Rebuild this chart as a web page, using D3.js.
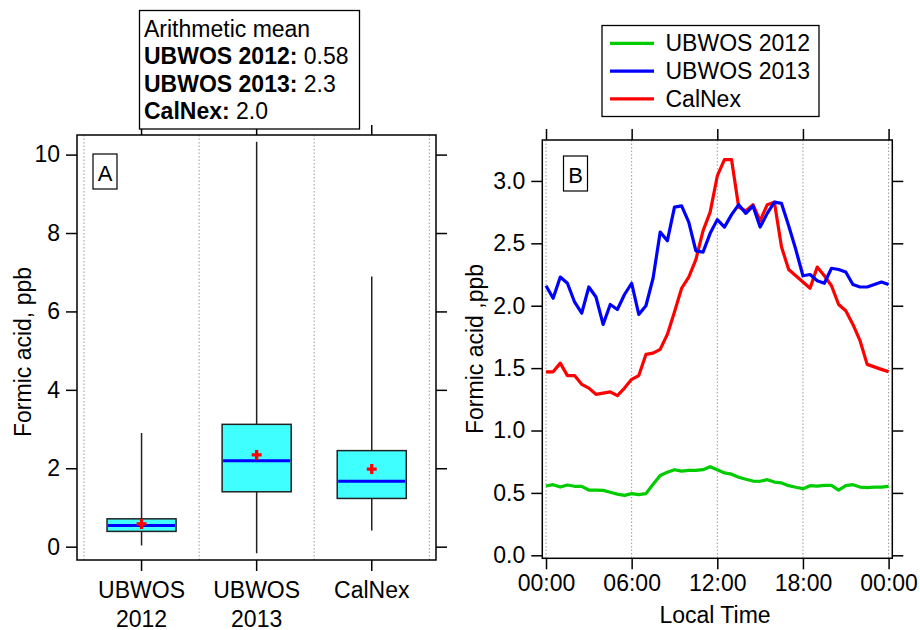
<!DOCTYPE html>
<html lang="en">
<head>
  <meta charset="UTF-8">
  <title>Formic acid - box plot and diurnal cycle</title>
  <script src="https://d3js.org/d3.v7.min.js"></script>
  <style>
    body { margin: 0; background: white; }
    svg { font-family: "Liberation Sans", Arial, Helvetica, sans-serif; }
    .tick text { font-size: 23px; fill: black; }
    .tick line { stroke: black; stroke-width: 1.5px; }
    .grid { stroke: #999; stroke-width: 1; stroke-dasharray: 1.5 2; }
    .frame { fill: none; stroke: black; stroke-width: 1.5px; }
  </style>
</head>
<body>
<div id="chart"></div>
<script>
  // ---- panel A: box statistics ----
  const sites = ["UBWOS 2012", "UBWOS 2013", "CalNex"];
  const siteLines = [["UBWOS", "2012"], ["UBWOS", "2013"], ["CalNex"]];
  const whiskerLow = [0.03, -0.17, 0.41];
  const q1 = [0.39, 1.40, 1.23];
  const median = [0.54, 2.19, 1.67];
  const q3 = [0.71, 3.12, 2.45];
  const whiskerHigh = [2.9, 10.33, 6.89];
  const means = [0.58, 2.34, 1.98];
  const meanLabels = ["0.58", "2.3", "2.0"];
  const yTicksA = [0, 2, 4, 6, 8, 10];

  // ---- panel B: diurnal cycle, half-hourly ----
  const hours = d3.range(0, 24.01, 0.5);
  const ubwos2012 = [0.555, 0.566, 0.547, 0.563, 0.553, 0.553, 0.523, 0.523, 0.52, 0.505, 0.49, 0.48,
    0.494, 0.486, 0.494, 0.57, 0.64, 0.665, 0.686, 0.675, 0.68, 0.68, 0.686, 0.71, 0.685,
    0.66, 0.65, 0.625, 0.61, 0.595, 0.593, 0.606, 0.587, 0.58, 0.558, 0.545, 0.534,
    0.558, 0.555, 0.56, 0.56, 0.523, 0.558, 0.566, 0.547, 0.542, 0.547, 0.547, 0.553];
  const ubwos2013 = [2.16, 2.06, 2.23, 2.18, 2.03, 1.94, 2.15, 2.07, 1.85, 2.01, 1.97, 2.09,
    2.18, 1.93, 2.00, 2.22, 2.59, 2.52, 2.79, 2.80, 2.67, 2.44, 2.43, 2.58, 2.69,
    2.63, 2.73, 2.81, 2.74, 2.80, 2.63, 2.74, 2.83, 2.82, 2.64, 2.45, 2.24,
    2.25, 2.20, 2.18, 2.30, 2.29, 2.27, 2.17, 2.15, 2.15, 2.17, 2.19, 2.17];
  const calnex = [1.47, 1.47, 1.54, 1.44, 1.44, 1.37, 1.34, 1.29, 1.30, 1.31, 1.28, 1.34,
    1.41, 1.44, 1.61, 1.62, 1.65, 1.77, 1.95, 2.14, 2.23, 2.37, 2.60, 2.75, 3.04,
    3.17, 3.17, 2.79, 2.76, 2.81, 2.68, 2.81, 2.83, 2.47, 2.29, 2.24, 2.19,
    2.14, 2.31, 2.24, 2.16, 2.01, 1.96, 1.85, 1.72, 1.53, 1.51, 1.49, 1.47];
  const seriesNames = ["UBWOS 2012", "UBWOS 2013", "CalNex"];
  const seriesColors = ["#00cc00", "#0000ff", "#ff0000"];
  const xTicksB = [0, 6, 12, 18, 24];
  const yTicksB = [0, 0.5, 1.0, 1.5, 2.0, 2.5, 3.0];

  const svg = d3.select("#chart").append("svg")
    .attr("width", 920)
    .attr("height", 630);

  // ===================== Panel A =====================
  const A = { left: 77, right: 436, top: 135, bottom: 560 };
  const xA = d3.scaleBand().domain(sites).range([84, 429.3]);
  const yA = d3.scaleLinear().domain([-0.34, 10.5]).range([A.bottom, A.top]);
  const gA = svg.append("g");

  // dotted separators at band edges
  const edges = sites.map(s => xA(s)).concat([xA.range()[1]]);
  gA.selectAll(".gridA").data(edges).enter().append("line")
    .attr("class", "grid")
    .attr("x1", d => d).attr("x2", d => d)
    .attr("y1", A.top).attr("y2", A.bottom);

  gA.append("g")
    .attr("transform", `translate(${A.left},0)`)
    .call(d3.axisLeft(yA).tickValues(yTicksA).tickSize(11).tickPadding(6))
    .call(g => g.select(".domain").remove());
  gA.append("g")
    .attr("transform", `translate(${A.right},0)`)
    .call(d3.axisRight(yA).tickValues(yTicksA).tickSize(11).tickFormat(""))
    .call(g => g.select(".domain").remove());
  gA.append("g")
    .attr("transform", `translate(0,${A.bottom})`)
    .call(d3.axisBottom(xA).tickSize(11).tickFormat(""))
    .call(g => g.select(".domain").remove());
  gA.append("g")
    .attr("transform", `translate(0,${A.top})`)
    .call(d3.axisTop(xA).tickSize(10).tickFormat(""))
    .call(g => g.select(".domain").remove());

  gA.append("rect").attr("class", "frame")
    .attr("x", A.left).attr("y", A.top)
    .attr("width", A.right - A.left).attr("height", A.bottom - A.top);

  // category labels
  sites.forEach((s, i) => {
    const t = gA.append("text")
      .attr("x", xA(s) + xA.bandwidth() / 2)
      .attr("y", 598)
      .attr("text-anchor", "middle")
      .style("font-size", "23px");
    siteLines[i].forEach((line, j) => {
      t.append("tspan")
        .attr("x", xA(s) + xA.bandwidth() / 2)
        .attr("dy", j === 0 ? 0 : 28.5)
        .text(line);
    });
  });

  // boxes
  const boxW = xA.bandwidth() * 0.6;
  sites.forEach((s, i) => {
    const cx = xA(s) + xA.bandwidth() / 2;
    gA.append("line")
      .attr("x1", cx).attr("x2", cx)
      .attr("y1", yA(whiskerLow[i])).attr("y2", yA(whiskerHigh[i]))
      .attr("stroke", "#222").attr("stroke-width", 1.5);
    gA.append("rect")
      .attr("x", cx - boxW / 2).attr("width", boxW)
      .attr("y", yA(q3[i])).attr("height", yA(q1[i]) - yA(q3[i]))
      .attr("fill", "#40ffff").attr("stroke", "#222").attr("stroke-width", 1.5);
    gA.append("line")
      .attr("x1", cx - boxW / 2 + 1).attr("x2", cx + boxW / 2 - 1)
      .attr("y1", yA(median[i])).attr("y2", yA(median[i]))
      .attr("stroke", "#0000ff").attr("stroke-width", 3);
    gA.append("path")
      .attr("d", d3.symbol(d3.symbolCross, 55)())
      .attr("transform", `translate(${cx},${yA(means[i])})`)
      .attr("fill", "#ff0000");
  });

  // panel letter
  gA.append("rect")
    .attr("x", 93).attr("y", 154).attr("width", 24).attr("height", 35)
    .attr("fill", "white").attr("stroke", "black").attr("stroke-width", 1.2);
  gA.append("text").attr("x", 105).attr("y", 181)
    .attr("text-anchor", "middle").style("font-size", "22px").text("A");

  // y label
  gA.append("text")
    .attr("transform", "translate(31,352) rotate(-90)")
    .attr("text-anchor", "middle")
    .style("font-size", "23px")
    .text("Formic acid, ppb");

  // mean annotation box
  gA.append("rect")
    .attr("x", 139.5).attr("y", 10.5).attr("width", 220).attr("height", 118.5)
    .attr("fill", "white").attr("stroke", "black").attr("stroke-width", 1.3);
  gA.append("text").attr("x", 144).attr("y", 36.5)
    .style("font-size", "23px").text("Arithmetic mean");
  sites.forEach((s, i) => {
    const t = gA.append("text").attr("x", 144).attr("y", 64 + i * 27.6)
      .style("font-size", "23px");
    t.append("tspan").style("font-weight", "bold").text(s + ":");
    t.append("tspan").text(" " + meanLabels[i]);
  });

  // ===================== Panel B =====================
  const B = { left: 542.3, right: 892.3, top: 140, bottom: 558.3 };
  const xB = d3.scaleLinear().domain([-0.26, 24.26]).range([B.left, B.right]);
  const yB = d3.scaleLinear().domain([-0.024, 3.328]).range([B.bottom, B.top]);
  const gB = svg.append("g");

  gB.selectAll(".gridB").data(xTicksB).enter().append("line")
    .attr("class", "grid")
    .attr("x1", d => xB(d)).attr("x2", d => xB(d))
    .attr("y1", B.top).attr("y2", B.bottom);

  const hhmm = d => (d % 24 < 10 ? "0" : "") + (d % 24) + ":00";

  gB.append("g")
    .attr("transform", `translate(${B.left},0)`)
    .call(d3.axisLeft(yB).tickValues(yTicksB).tickSize(11).tickPadding(6).tickFormat(d3.format(".1f")))
    .call(g => g.select(".domain").remove());
  gB.append("g")
    .attr("transform", `translate(${B.right},0)`)
    .call(d3.axisRight(yB).tickValues(yTicksB).tickSize(11).tickFormat(""))
    .call(g => g.select(".domain").remove());
  gB.append("g")
    .attr("transform", `translate(0,${B.bottom})`)
    .call(d3.axisBottom(xB).tickValues(xTicksB).tickSize(11).tickPadding(5).tickFormat(hhmm))
    .call(g => g.select(".domain").remove());
  gB.append("g")
    .attr("transform", `translate(0,${B.top})`)
    .call(d3.axisTop(xB).tickValues(xTicksB).tickSize(11).tickFormat(""))
    .call(g => g.select(".domain").remove());

  gB.append("rect").attr("class", "frame")
    .attr("x", B.left).attr("y", B.top)
    .attr("width", B.right - B.left).attr("height", B.bottom - B.top);

  const line = d3.line().x((d, i) => xB(hours[i])).y(d => yB(d));
  [ubwos2012, calnex, ubwos2013].forEach((vals) => {
    const k = vals === ubwos2012 ? 0 : vals === ubwos2013 ? 1 : 2;
    gB.append("path")
      .datum(vals)
      .attr("d", line)
      .attr("fill", "none")
      .attr("stroke", seriesColors[k])
      .attr("stroke-width", 3.2)
      .attr("stroke-linejoin", "round");
  });

  gB.append("rect")
    .attr("x", 563.5).attr("y", 156).attr("width", 24).attr("height", 35)
    .attr("fill", "white").attr("stroke", "black").attr("stroke-width", 1.2);
  gB.append("text").attr("x", 575.5).attr("y", 183)
    .attr("text-anchor", "middle").style("font-size", "22px").text("B");

  gB.append("text")
    .attr("transform", "translate(482.5,349) rotate(-90)")
    .attr("text-anchor", "middle")
    .style("font-size", "23px")
    .text("Formic acid ,ppb");
  gB.append("text")
    .attr("x", 715).attr("y", 623)
    .attr("text-anchor", "middle")
    .style("font-size", "23px")
    .text("Local Time");

  // legend
  gB.append("rect")
    .attr("x", 602).attr("y", 25.5).attr("width", 217).attr("height", 91)
    .attr("fill", "white").attr("stroke", "black").attr("stroke-width", 1.3);
  seriesNames.forEach((n, i) => {
    const y = 43.3 + i * 27.8;
    gB.append("line")
      .attr("x1", 610).attr("x2", 654).attr("y1", y).attr("y2", y)
      .attr("stroke", seriesColors[i]).attr("stroke-width", 3.2);
    gB.append("text").attr("x", 665.5).attr("y", y + 8)
      .style("font-size", "23px").text(n);
  });
</script>
</body>
</html>
